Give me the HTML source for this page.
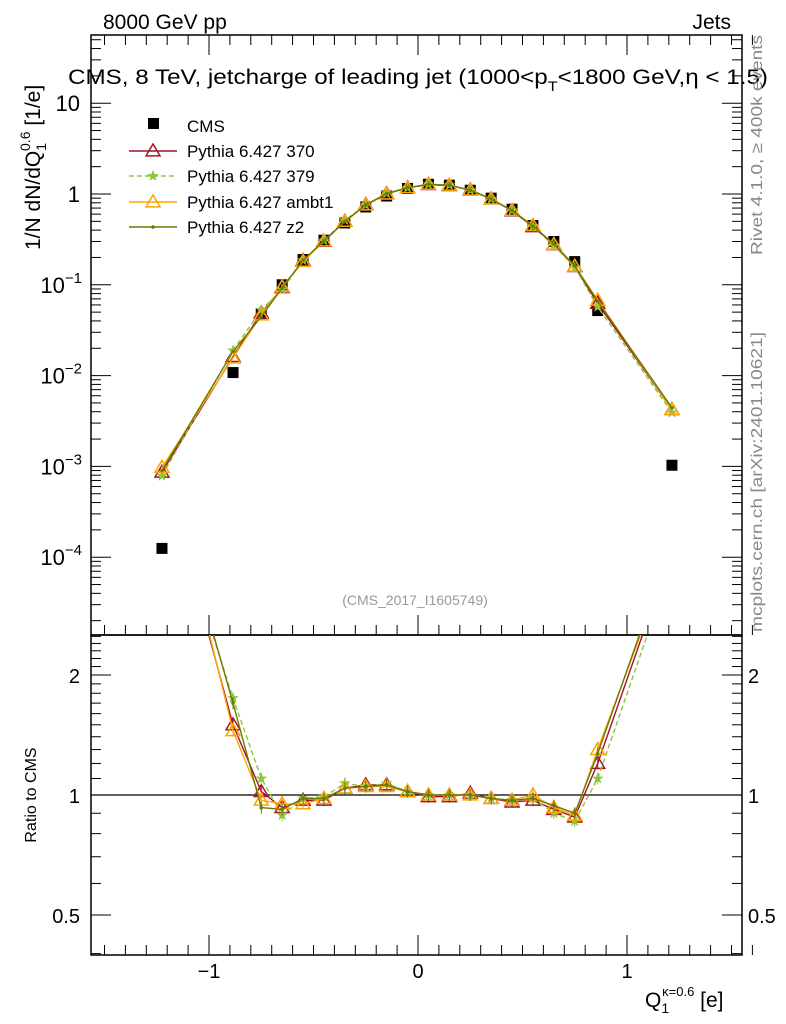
<!DOCTYPE html>
<html><head><meta charset="utf-8">
<style>
html,body{margin:0;padding:0;background:#fff;}
svg{display:block;font-family:"Liberation Sans",sans-serif;}
</style></head>
<body>
<svg id="chart" width="786" height="1024" viewBox="0 0 786 1024" xmlns="http://www.w3.org/2000/svg">
<rect width="786" height="1024" fill="#fff"/>
<g id="g"></g>
</svg>
<script>
const xCenters=[-1.225,-0.885,-0.75,-0.65,-0.55,-0.45,-0.35,-0.25,-0.15,-0.05,0.05,0.15,0.25,0.35,0.45,0.55,0.65,0.75,0.86,1.215];
const cmsValues=[1.25e-4,0.0108,0.048,0.10,0.19,0.31,0.48,0.72,0.95,1.15,1.28,1.25,1.1,0.9,0.68,0.45,0.30,0.18,0.052,1.03e-3];
const ratio370=[6.9,1.5,1.02,0.93,0.97,0.97,1.04,1.06,1.06,1.02,0.99,0.99,1.01,0.98,0.96,0.97,0.92,0.88,1.2,4.1];
const ratio379=[6.3,1.75,1.1,0.89,0.98,0.99,1.07,1.05,1.07,1.02,1.0,1.0,1.0,0.98,0.97,0.98,0.9,0.86,1.1,3.8];
const ratioAmbt1=[7.8,1.45,0.97,0.95,0.95,0.98,1.04,1.05,1.05,1.02,1.0,1.0,1.0,0.98,0.97,1.0,0.93,0.89,1.3,4.1];
const ratioZ2=[7.2,1.7,0.93,0.92,0.98,0.98,1.04,1.05,1.06,1.02,1.0,1.0,1.0,0.98,0.97,0.98,0.94,0.9,1.27,4.3];
const xTickLabels=["−1","0","1"];
const xTickValues=[-1,0,1];
const ratioTickValues=[0.5,1,2];
const ratioTickLabels=["0.5","1","2"];

const NS="http://www.w3.org/2000/svg";
const G=document.getElementById('g');
function el(tag,attrs,parent){const e=document.createElementNS(NS,tag);for(const k in attrs)e.setAttribute(k,attrs[k]);(parent||G).appendChild(e);return e;}
const L=91,R=742,T=35,MB=635,B=955;
const X=v=>418+209*v;
const Y=v=>194-90.8*Math.log10(v);
const YR=r=>795-120*Math.log2(r);

const defs=el('defs',{});
const c1=el('clipPath',{id:'cm'},defs);el('rect',{x:L,y:T,width:R-L,height:MB-T},c1);
const c2=el('clipPath',{id:'cr'},defs);el('rect',{x:L,y:MB,width:R-L,height:B-MB},c2);

let f=el('rect',{x:L,y:T,width:R-L,height:MB-T,fill:'none',stroke:'#000','stroke-width':1.5});

f=el('rect',{x:L,y:MB,width:R-L,height:B-MB,fill:'none',stroke:'#000','stroke-width':1.5});


for(let i=-15;i<=16;i++){const v=i/10;const x=X(v);
 for(const [yb,dir] of [[MB,-1],[T,1],[B,-1]]){el('line',{x1:x,x2:x,y1:yb,y2:yb+dir*(i%10===0?20:10),stroke:'#000','stroke-width':1});}
}
xTickValues.forEach((v,i)=>{const t=el('text',{x:X(v),y:978,'font-size':20,'text-anchor':'middle'});t.textContent=xTickLabels[i];
});

for(let d=-5;d<=1;d++){for(let m=1;m<10;m++){const v=m*Math.pow(10,d);const y=Y(v);if(y<T||y>MB)continue;const len=m===1?20:10;
 el('line',{x1:L,x2:L+len,y1:y,y2:y,stroke:'#000'});el('line',{x1:R,x2:R-len,y1:y,y2:y,stroke:'#000'});}}
const ylabs=[[10,'10'],[1,'1']];
ylabs.forEach(([v,s])=>{const t=el('text',{x:80,y:Y(v)+8,'font-size':22,'text-anchor':'end'});t.textContent=s;});
[-1,-2,-3,-4].forEach(e=>{const t=el('text',{x:82,y:Y(Math.pow(10,e))+8,'font-size':22,'text-anchor':'end'});
 
 const a=el('tspan',{},t);a.textContent='10';const b=el('tspan',{dy:-10,'font-size':15},t);b.textContent='−'+(-e);});

for(let k=4;k<=25;k++){const v=k/10;const y=YR(v);if(y<MB||y>B)continue;const major=(v===0.5||v===1||v===2);const len=major?20:10;
 el('line',{x1:L,x2:L+len,y1:y,y2:y,stroke:'#000'});el('line',{x1:R,x2:R-len,y1:y,y2:y,stroke:'#000'});}
ratioTickValues.forEach((v,i)=>{let t=el('text',{x:80,y:YR(v)+8,'font-size':20,'text-anchor':'end'});t.textContent=ratioTickLabels[i];
 
 t=el('text',{x:748,y:YR(v)+8,'font-size':20});t.textContent=ratioTickLabels[i];
 });
let ref=el('line',{x1:L,x2:R,y1:YR(1),y2:YR(1),stroke:'#000','stroke-width':1.3});


const series=[
 {name:'370',r:ratio370,color:'#a5122a',dash:null,marker:'tri',w:1.4},
 {name:'379',r:ratio379,color:'#8cc63f',dash:'5,3',marker:'star',w:1.4},
 {name:'ambt1',r:ratioAmbt1,color:'#ffa500',dash:null,marker:'tri',w:1.4},
 {name:'z2',r:ratioZ2,color:'#6b7a00',dash:null,marker:'dot',w:1.4}
];
function marker(s,x,y,parent,size){
 let m;
 if(s.marker==='tri'){const h=size||7;m=el('polygon',{points:`${x},${y-h} ${x-h},${y+h*0.7} ${x+h},${y+h*0.7}`,fill:'none',stroke:s.color,'stroke-width':1.5},parent);}
 else if(s.marker==='star'){let p=[];for(let k=0;k<10;k++){const a=-Math.PI/2+k*Math.PI/5;const rr=k%2?2:5;p.push((x+rr*Math.cos(a)).toFixed(1)+','+(y+rr*Math.sin(a)).toFixed(1));}
  m=el('polygon',{points:p.join(' '),fill:s.color,stroke:s.color,'stroke-width':0.8},parent);}
 else {m=el('circle',{cx:x,cy:y,r:1.8,fill:s.color},parent);}
 return m;
}
const gm=el('g',{'clip-path':'url(#cm)'});
const gr=el('g',{'clip-path':'url(#cr)'});
cmsValues.forEach((v,i)=>{const r=el('rect',{x:X(xCenters[i])-5.5,y:Y(v)-5.5,width:11,height:11,fill:'#000'},gm);
 });
series.forEach(s=>{
 const mc=s.r.map((r,i)=>r*cmsValues[i]);
 const pts=mc.map((v,i)=>X(xCenters[i]).toFixed(1)+','+Y(v).toFixed(1)).join(' ');
 const a={points:pts,fill:'none',stroke:s.color,'stroke-width':s.w};if(s.dash)a['stroke-dasharray']=s.dash;
 const pl=el('polyline',a,gm);
 mc.forEach((v,i)=>{const m=marker(s,X(xCenters[i]),Y(v),gm);});
 const rp=s.r.map((r,i)=>X(xCenters[i]).toFixed(1)+','+YR(r).toFixed(1)).join(' ');
 const a2={points:rp,fill:'none',stroke:s.color,'stroke-width':s.w};if(s.dash)a2['stroke-dasharray']=s.dash;
 const rl=el('polyline',a2,gr);
 s.r.forEach((r,i)=>{const x=X(xCenters[i]),y=YR(r);
  el('line',{x1:x,x2:x,y1:y-6,y2:y+6,stroke:s.color,'stroke-width':1},gr);
  const m=marker(s,x,y,gr);});
});

const leg=el('g',{});
el('rect',{x:148,y:118,width:11,height:11,fill:'#000'},leg);
let lt=el('text',{x:187,y:132,'font-size':17},leg);lt.textContent='CMS';
const legNames=['Pythia 6.427 370','Pythia 6.427 379','Pythia 6.427 ambt1','Pythia 6.427 z2'];
const legY=[151,176,202,227];
series.forEach((s,i)=>{const y=legY[i];const a={x1:129,x2:177,y1:y,y2:y,stroke:s.color,'stroke-width':1.4};if(s.dash)a['stroke-dasharray']=s.dash;
 el('line',a,leg);marker(s,153,y,leg);
 const t=el('text',{x:187,y:y+6,'font-size':17},leg);t.textContent=legNames[i];
 });

function txt(x,y,s,attrs,name){const t=el('text',Object.assign({x:x,y:y},attrs));t.textContent=s;return t;}
txt(103,29,'8000 GeV pp',{'font-size':21},'energy-label');
txt(731,29,'Jets',{'font-size':21,'text-anchor':'end'},'process-label');
const tt=el('text',{x:68,y:84,'font-size':21,textLength:700,lengthAdjust:'spacingAndGlyphs'});

tt.textContent='CMS, 8 TeV, jetcharge of leading jet (1000<p';
let sp=el('tspan',{dy:7,'font-size':14},tt);sp.textContent='T';
sp=el('tspan',{dy:-7},tt);sp.textContent='<1800 GeV,η < 1.5)';
txt(415,605,'(CMS_2017_I1605749)',{'font-size':14,fill:'#999','text-anchor':'middle'},'analysis-id-watermark');
txt(0,0,'Rivet 4.1.0, ≥ 400k events',{'font-size':16,fill:'#888',textLength:220,lengthAdjust:'spacingAndGlyphs',transform:'translate(762,255) rotate(-90)'},'rivet-version-label');
txt(0,0,'mcplots.cern.ch [arXiv:2401.10621]',{'font-size':16,fill:'#888',textLength:300,lengthAdjust:'spacingAndGlyphs',transform:'translate(762,632) rotate(-90)'},'mcplots-label');
const yt=el('text',{'font-size':21,transform:'translate(40,250) rotate(-90)'});
yt.textContent='1/N dN/dQ';sp=el('tspan',{dy:6,'font-size':14},yt);sp.textContent='1';sp=el('tspan',{dy:-16,dx:-8,'font-size':14},yt);sp.textContent='0.6';
sp=el('tspan',{dy:10},yt);sp.textContent=' [1/e]';
txt(0,0,'Ratio to CMS',{'font-size':16,'text-anchor':'middle',transform:'translate(36,795) rotate(-90)'},'ratio-axis-title');
const xt=el('text',{x:645,y:1007,'font-size':21});
xt.textContent='Q';sp=el('tspan',{dy:6,'font-size':14},xt);sp.textContent='1';sp=el('tspan',{dy:-17,dx:-7,'font-size':13},xt);sp.textContent='κ=0.6';
sp=el('tspan',{dy:11},xt);sp.textContent=' [e]';
</script>
</body></html>
